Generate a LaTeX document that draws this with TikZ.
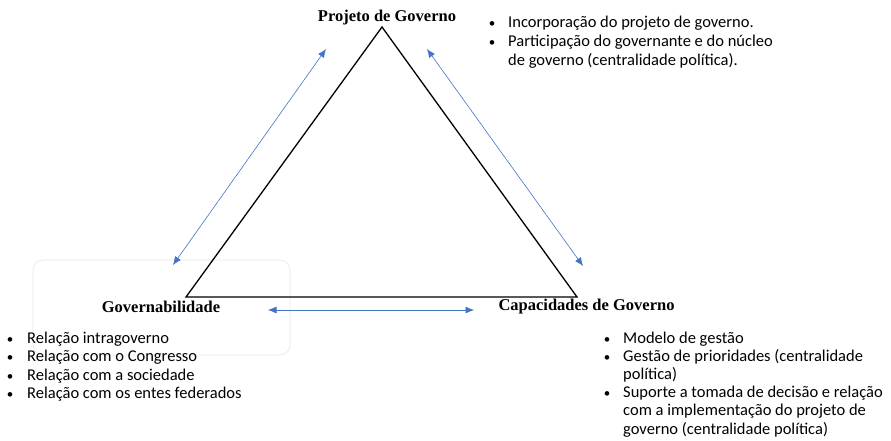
\documentclass[tikz,border=0pt]{standalone}
\usepackage{fontspec}
\setmainfont{Liberation Serif}
\newfontfamily\calib{Carlito}
\usetikzlibrary{arrows.meta}
\definecolor{arrblue}{RGB}{68,114,196}
\begin{document}
\begin{tikzpicture}[x=1pt,y=-1pt,
  title/.style={font=\fontsize{16.5}{19}\selectfont\bfseries, inner sep=0pt, anchor=base},
  bl/.style={font=\calib\fontsize{16.5}{19}\selectfont, inner sep=0pt, anchor=base west},
  bul/.style={font=\calib\fontsize{13}{15}\selectfont, inner sep=0pt, anchor=base},
  dbl/.style={arrblue, line width=0.6pt, {Latex[length=8.5pt,width=7pt]}-{Latex[length=8.5pt,width=7pt]}},
  tri/.style={black, line width=1.3pt, line join=miter}]
\useasboundingbox (0,0) rectangle (891,440);
% faint frame
\draw[black!10, line width=0.6pt, rounded corners=10pt] (33,260) rectangle (290,355);
% triangle
\coordinate (A) at (382,27);
\coordinate (B) at (186,297);
\coordinate (C) at (577,297);
\draw[tri] (A) -- (B) -- (C) -- cycle;
% labels
\node[title] (pg) at (387,21) {Projeto de Governo};
\node[title] (gv) at (161,312.5) {Governabilidade};
\node[title] (cg) at (586.5,310) {Capacidades de Governo};
% arrows
\coordinate (l1) at (173,265); \coordinate (l2) at (326,49);
\coordinate (r1) at (427,49); \coordinate (r2) at (583,266);
\coordinate (h1) at (268,310); \coordinate (h2) at (474,310);
\draw[dbl] (l1) -- (l2);
\draw[dbl] (r1) -- (r2);
\draw[dbl] (h1) -- (h2);
% top-right list
\node[bul] (b11) at (492,27) {\textbullet};
\node[bl] (t11) at (508,27) {Incorporação do projeto de governo.};
\node[bul] (b12) at (492,46) {\textbullet};
\node[bl] (t12) at (508,46) {Participação do governante e do núcleo};
\node[bl] (t13) at (508,65) {de governo (centralidade política).};
% left list
\node[bul] (b21) at (10,343) {\textbullet};
\node[bl] (t21) at (27,343) {Relação intragoverno};
\node[bul] (b22) at (10,361.5) {\textbullet};
\node[bl] (t22) at (27,361.5) {Relação com o Congresso};
\node[bul] (b23) at (10,380) {\textbullet};
\node[bl] (t23) at (27,380) {Relação com a sociedade};
\node[bul] (b24) at (10,398.5) {\textbullet};
\node[bl] (t24) at (27,398.5) {Relação com os entes federados};
% bottom-right list
\node[bul] (b31) at (607,343) {\textbullet};
\node[bl] (t31) at (623,343) {Modelo de gestão};
\node[bul] (b32) at (607,361.2) {\textbullet};
\node[bl] (t32) at (623,361.2) {Gestão de prioridades (centralidade};
\node[bl] (t33) at (623,379.4) {política)};
\node[bul] (b34) at (607,397.6) {\textbullet};
\node[bl] (t34) at (623,397.6) {Suporte a tomada de decisão e relação};
\node[bl] (t35) at (623,415.8) {com a implementação do projeto de};
\node[bl] (t36) at (623,434) {governo (centralidade política)};
\end{tikzpicture}
\end{document}
